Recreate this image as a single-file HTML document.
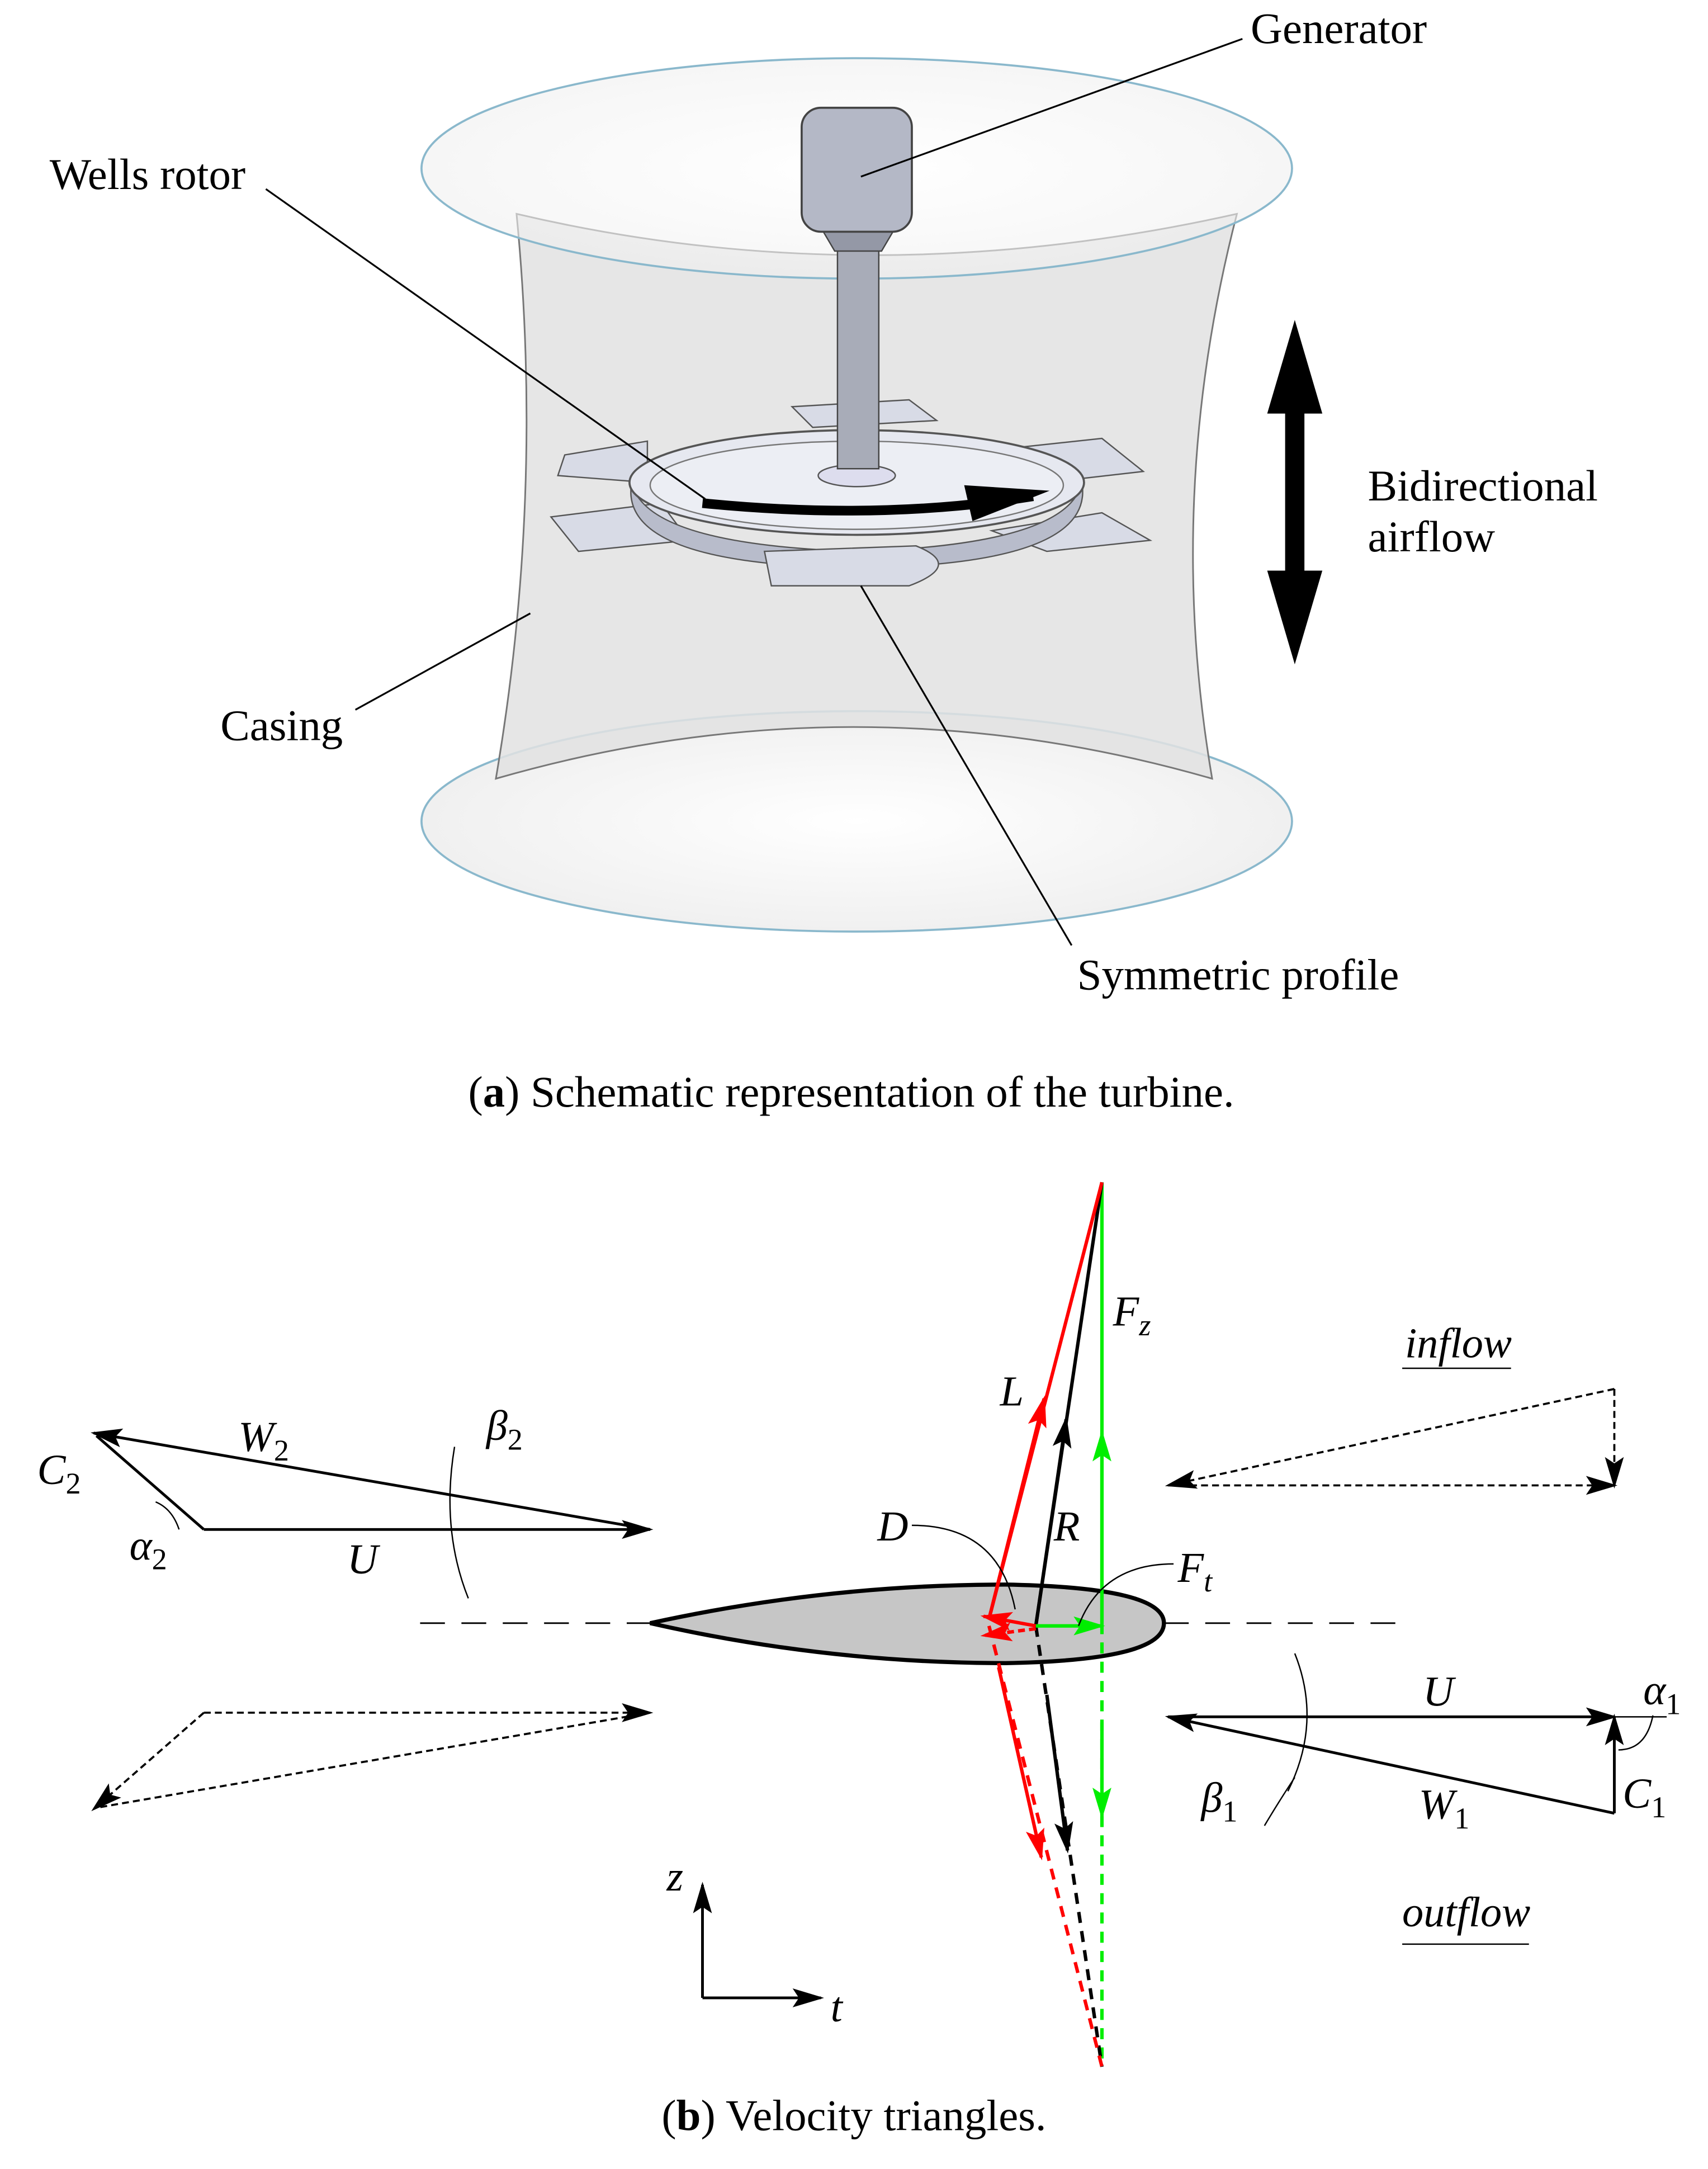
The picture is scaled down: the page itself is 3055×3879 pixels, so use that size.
<!DOCTYPE html>
<html><head><style>html,body{margin:0;padding:0;background:#fff}svg{display:block}</style></head>
<body>
<svg width="3055" height="3879" viewBox="0 0 1240 1574" xmlns="http://www.w3.org/2000/svg" font-family="'Liberation Serif',serif">
<defs>
<marker id="a" viewBox="0 0 20 14" refX="18" refY="7" markerWidth="24" markerHeight="16" orient="auto-start-reverse" markerUnits="userSpaceOnUse"><path d="M0,1 L20,7 L0,13 L4,7z" fill="#000"/></marker>
<marker id="ar" viewBox="0 0 20 14" refX="18" refY="7" markerWidth="24" markerHeight="16" orient="auto" markerUnits="userSpaceOnUse"><path d="M0,1 L20,7 L0,13 L4,7z" fill="#f00"/></marker>
<marker id="ag" viewBox="0 0 20 14" refX="18" refY="7" markerWidth="24" markerHeight="16" orient="auto" markerUnits="userSpaceOnUse"><path d="M0,1 L20,7 L0,13 L4,7z" fill="#0e0"/></marker>
<radialGradient id="eg" cx="0.5" cy="0.5" r="0.5"><stop offset="0" stop-color="#fff"/><stop offset="1" stop-color="#f0f0f0"/></radialGradient>
</defs>
<ellipse cx="622" cy="596" rx="316" ry="80" fill="url(#eg)" stroke="#8ab8cc" stroke-width="1.5"/>
<path d="M375,155 Q395,360 360,565 Q620,490 880,565 Q845,360 898,155 Q630,215 375,155z" fill="#e2e2e2" fill-opacity="0.85" stroke="#777" stroke-width="1.2"/>
<ellipse cx="622" cy="122" rx="316" ry="80" fill="url(#eg)" fill-opacity="0.6" stroke="#8ab8cc" stroke-width="1.5"/>
<path d="M410,330 L470,320 L470,350 L405,345z" fill="#d8dbe6" stroke="#555"/>
<path d="M735,325 L800,318 L830,342 L760,350z" fill="#d8dbe6" stroke="#555"/>
<path d="M400,375 L480,365 L500,392 L420,400z" fill="#d8dbe6" stroke="#555"/>
<path d="M720,385 L800,372 L835,392 L760,400z" fill="#d8dbe6" stroke="#555"/>
<path d="M575,295 L660,290 L680,305 L590,310z" fill="#d8dbe6" stroke="#555"/>
<path d="M458,345 Q460,395 622,400 Q784,395 786,345 L786,358 Q784,410 622,412 Q460,410 458,358z" fill="#b8bccb" stroke="#555"/>
<ellipse cx="622" cy="350" rx="165" ry="38" fill="#e6e8f0" stroke="#555" stroke-width="1.5"/>
<ellipse cx="622" cy="352" rx="150" ry="32" fill="#eceef4" stroke="#777"/>
<path d="M555,400 L665,396 Q700,410 660,425 L560,425z" fill="#d8dbe6" stroke="#555"/>
<ellipse cx="622" cy="345" rx="28" ry="8" fill="#dde" stroke="#555"/>
<path d="M510,365 Q640,378 750,360" fill="none" stroke="#000" stroke-width="7"/>
<path d="M700,352 L762,356 L706,378z" fill="#000"/>
<rect x="608" y="170" width="30" height="170" fill="#a8acb8" stroke="#444"/>
<path d="M596,165 L650,165 L640,182 L606,182z" fill="#9498a6" stroke="#444"/>
<rect x="582" y="78" width="80" height="90" rx="14" fill="#b4b8c6" stroke="#444" stroke-width="1.5"/>
<rect x="933" y="295" width="14" height="125" fill="#000"/>
<path d="M940,232 L960,300 L920,300z M940,482 L960,414 L920,414z" fill="#000"/>
<g font-size="32" fill="#000">
<text x="908" y="31">Generator</text>
<text x="36" y="137">Wells rotor</text>
<text x="160" y="537">Casing</text>
<text x="782" y="718">Symmetric profile</text>
<text x="993" y="363">Bidirectional</text>
<text x="993" y="400">airflow</text>
<text x="618" y="803" text-anchor="middle">(<tspan font-weight="bold">a</tspan>) Schematic representation of the turbine.</text>
<text x="620" y="1546" text-anchor="middle">(<tspan font-weight="bold">b</tspan>) Velocity triangles.</text>
</g>
<g stroke="#000" stroke-width="1.3" fill="none">
<line x1="902" y1="28" x2="625" y2="128"/>
<line x1="193" y1="137" x2="512" y2="362"/>
<line x1="258" y1="515" x2="385" y2="445"/>
<line x1="778" y1="686" x2="625" y2="425"/>
</g>
<line x1="305" y1="1178" x2="1015" y2="1178" stroke="#000" stroke-dasharray="18,12" stroke-width="1.2"/>
<path d="M472,1178 Q600,1150 730,1150 Q845,1152 845,1178 Q845,1205 730,1207 Q600,1207 472,1178z" fill="#c6c6c6" stroke="#000" stroke-width="3"/>
<g stroke="#000" stroke-width="2" fill="none">
<line x1="148" y1="1110" x2="472" y2="1110" marker-end="url(#a)"/>
<line x1="472" y1="1110" x2="68" y2="1040" marker-end="url(#a)"/>
<line x1="148" y1="1110" x2="70" y2="1042"/>
<path d="M330,1050 Q320,1110 340,1160" stroke-width="1"/>
<path d="M130,1110 Q125,1095 113,1090" stroke-width="1"/>
</g>
<g stroke="#000" stroke-width="1.5" fill="none" stroke-dasharray="5,3">
<line x1="148" y1="1243" x2="472" y2="1243" marker-end="url(#a)"/>
<line x1="148" y1="1243" x2="68" y2="1313" marker-end="url(#a)"/>
<line x1="472" y1="1243" x2="70" y2="1312"/>
<line x1="1172" y1="1008" x2="848" y2="1078" marker-end="url(#a)"/>
<line x1="848" y1="1078" x2="1172" y2="1078" marker-end="url(#a)"/>
<line x1="1172" y1="1008" x2="1172" y2="1078" marker-end="url(#a)"/>
</g>
<g stroke="#000" stroke-width="2" fill="none">
<line x1="848" y1="1246" x2="1172" y2="1246" marker-end="url(#a)"/>
<line x1="1172" y1="1316" x2="848" y2="1246" marker-end="url(#a)"/>
<line x1="1172" y1="1316" x2="1172" y2="1246" marker-end="url(#a)"/>
<line x1="1172" y1="1246" x2="1210" y2="1246" stroke-width="1"/>
<path d="M940,1200 Q960,1250 935,1300" stroke-width="1"/>
<path d="M1175,1270 Q1195,1270 1200,1245" stroke-width="1"/>
<path d="M918,1325 Q930,1305 940,1290" stroke-width="1"/>
</g>
<g fill="none" stroke-width="2.5">
<line x1="800" y1="858" x2="800" y2="1178" stroke="#0e0"/>
<line x1="800" y1="1178" x2="800" y2="1040" stroke="#0e0" marker-end="url(#ag)"/>
<line x1="800" y1="1178" x2="800" y2="1500" stroke="#0e0" stroke-dasharray="8,6"/>
<line x1="800" y1="1250" x2="800" y2="1318" stroke="#0e0" marker-end="url(#ag)"/>
<line x1="752" y1="1180" x2="800" y2="858" stroke="#000"/>
<line x1="752" y1="1180" x2="774" y2="1030" stroke="#000" marker-end="url(#a)"/>
<line x1="718" y1="1175" x2="800" y2="858" stroke="#f00"/>
<line x1="718" y1="1175" x2="758" y2="1015" stroke="#f00" marker-end="url(#ar)"/>
<line x1="752" y1="1180" x2="800" y2="1500" stroke="#000" stroke-dasharray="8,6"/>
<line x1="760" y1="1230" x2="775" y2="1343" stroke="#000" marker-end="url(#a)"/>
<line x1="718" y1="1180" x2="800" y2="1500" stroke="#f00" stroke-dasharray="8,6"/>
<line x1="725" y1="1210" x2="756" y2="1348" stroke="#f00" marker-end="url(#ar)"/>
<line x1="752" y1="1180" x2="800" y2="1180" stroke="#0e0" marker-end="url(#ag)"/>
<line x1="752" y1="1180" x2="714" y2="1173" stroke="#f00" marker-end="url(#ar)"/>
<line x1="752" y1="1182" x2="714" y2="1187" stroke="#f00" stroke-dasharray="5,3" marker-end="url(#ar)"/>
<path d="M662,1107 Q725,1107 737,1168" stroke="#000" stroke-width="1"/>
<path d="M852,1135 Q800,1135 783,1180" stroke="#000" stroke-width="1"/>
</g>
<g stroke="#000" stroke-width="2" fill="none">
<line x1="510" y1="1450" x2="510" y2="1368" marker-end="url(#a)"/>
<line x1="510" y1="1450" x2="596" y2="1450" marker-end="url(#a)"/>
</g>
<g font-size="31" font-style="italic" fill="#000">
<text x="27" y="1077">C<tspan font-style="normal" font-size="22" dy="7">2</tspan></text>
<text x="173" y="1053">W<tspan font-style="normal" font-size="22" dy="7">2</tspan></text>
<text x="353" y="1045">β<tspan font-style="normal" font-size="22" dy="7">2</tspan></text>
<text x="94" y="1132">α<tspan font-style="normal" font-size="22" dy="7">2</tspan></text>
<text x="252" y="1142">U</text>
<text x="808" y="962">F<tspan font-size="22" dy="7">z</tspan></text>
<text x="726" y="1020">L</text>
<text x="765" y="1118">R</text>
<text x="637" y="1118">D</text>
<text x="855" y="1148">F<tspan font-size="22" dy="7">t</tspan></text>
<text x="1020" y="985">inflow</text>
<text x="1018" y="1398">outflow</text>
<text x="1033" y="1238">U</text>
<text x="1193" y="1237">α<tspan font-style="normal" font-size="22" dy="7">1</tspan></text>
<text x="872" y="1315">β<tspan font-style="normal" font-size="22" dy="7">1</tspan></text>
<text x="1030" y="1320">W<tspan font-style="normal" font-size="22" dy="7">1</tspan></text>
<text x="1178" y="1312">C<tspan font-style="normal" font-size="22" dy="7">1</tspan></text>
<text x="484" y="1372">z</text>
<text x="603" y="1467">t</text>
</g>
<line x1="1018" y1="993" x2="1097" y2="993" stroke="#000" stroke-width="1"/>
<line x1="1018" y1="1411" x2="1110" y2="1411" stroke="#000" stroke-width="1"/>
</svg>
</body></html>
